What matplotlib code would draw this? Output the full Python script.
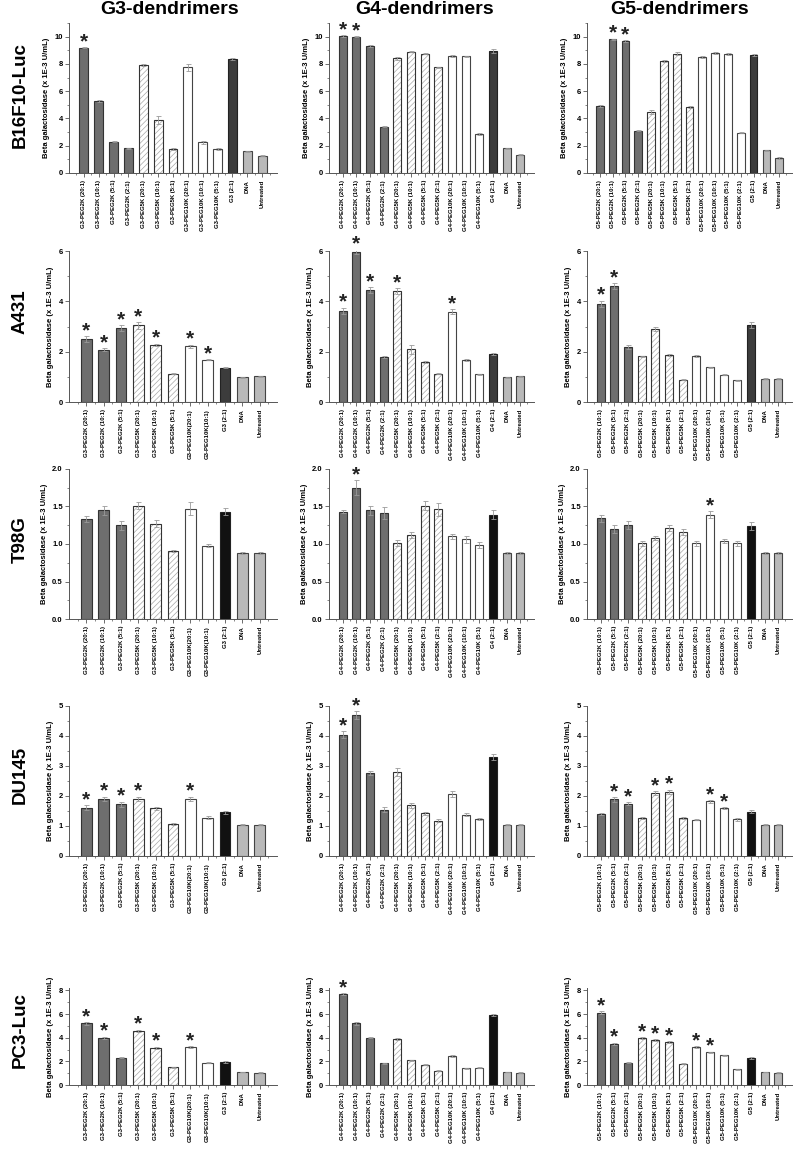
import numpy as np
import matplotlib
matplotlib.use("Agg")
import matplotlib.pyplot as plt

plt.rcParams['font.family'] = ['Liberation Sans', 'DejaVu Sans']
plt.rcParams['font.weight'] = 'bold'
plt.rcParams['hatch.linewidth'] = 0.5

#---------- column / row names ----------
col_titles = ["G3-dendrimers", "G4-dendrimers", "G5-dendrimers"]
row_names = ["B16F10-Luc", "A431", "T98G", "DU145", "PC3-Luc"]
ylims = [11, 6, 2, 5, 8.2]
ytick_steps = [2, 2, 0.5, 1, 2]
ytick_fmt = ["%d", "%d", "%.1f", "%d", "%d"]

#---------- tick labels ----------
g3_full = ["G3-PEG2K (20:1)", "G3-PEG2K (10:1)", "G3-PEG2K (5:1)", "G3-PEG2K (2:1)",
           "G3-PEG5K (20:1)", "G3-PEG5K (10:1)", "G3-PEG5K (5:1)",
           "G3-PEG10K (20:1)", "G3-PEG10K (10:1)", "G3-PEG10K (5:1)",
           "G3 (2:1)", "DNA", "Untreated"]
g3_short = ["G3-PEG2K (20:1)", "G3-PEG2K (10:1)", "G3-PEG2K (5:1)",
            "G3-PEG5K (20:1)", "G3-PEG5K (10:1)", "G3-PEG5K (5:1)",
            "G3-PEG10K(20:1)", "G3-PEG10K(10:1)",
            "G3 (2:1)", "DNA", "Untreated"]
g4_labels = ["G4-PEG2K (20:1)", "G4-PEG2K (10:1)", "G4-PEG2K (5:1)", "G4-PEG2K (2:1)",
             "G4-PEG5K (20:1)", "G4-PEG5K (10:1)", "G4-PEG5K (5:1)", "G4-PEG5K (2:1)",
             "G4-PEG10K (20:1)", "G4-PEG10K (10:1)", "G4-PEG10K (5:1)",
             "G4 (2:1)", "DNA", "Untreated"]
g5_full = ["G5-PEG2K (20:1)", "G5-PEG2K (10:1)", "G5-PEG2K (5:1)", "G5-PEG2K (2:1)",
           "G5-PEG5K (20:1)", "G5-PEG5K (10:1)", "G5-PEG5K (5:1)", "G5-PEG5K (2:1)",
           "G5-PEG10K (20:1)", "G5-PEG10K (10:1)", "G5-PEG10K (5:1)", "G5-PEG10K (2:1)",
           "G5 (2:1)", "DNA", "Untreated"]
g5_short = g5_full[1:]

#---------- B16F10-Luc ----------
b16_g3 = [9.2, 5.25, 2.3, 1.8, 7.95, 3.9, 1.75, 7.75, 2.25, 1.75, 8.35, 1.6, 1.25]
b16_g3_err = [0.05, 0.08, 0.05, 0.04, 0.07, 0.3, 0.05, 0.25, 0.1, 0.05, 0.06, 0.04, 0.04]
b16_g3_star = [0]
b16_g4 = [10.05, 10.0, 9.3, 3.4, 8.4, 8.9, 8.75, 7.75, 8.55, 8.55, 2.85, 8.95, 1.8, 1.35]
b16_g4_err = [0.05, 0.05, 0.06, 0.04, 0.08, 0.06, 0.06, 0.05, 0.07, 0.05, 0.05, 0.15, 0.05, 0.04]
b16_g4_star = [0, 1]
b16_g5 = [4.9, 9.8, 9.7, 3.1, 4.45, 8.2, 8.75, 4.85, 8.5, 8.8, 8.7, 2.95, 8.65, 1.65, 1.1]
b16_g5_err = [0.05, 0.05, 0.06, 0.05, 0.15, 0.06, 0.1, 0.05, 0.06, 0.06, 0.08, 0.04, 0.07, 0.05, 0.04]
b16_g5_star = [1, 2]

#---------- A431 ----------
a431_g3 = [2.5, 2.08, 2.95, 3.05, 2.27, 1.12, 2.22, 1.68, 1.37, 0.98, 1.02]
a431_g3_err = [0.13, 0.07, 0.12, 0.13, 0.05, 0.02, 0.06, 0.03, 0.03, 0.02, 0.02]
a431_g3_star = [0, 1, 2, 3, 4, 6, 7]
a431_g4 = [3.62, 5.97, 4.44, 1.79, 4.4, 2.1, 1.59, 1.13, 3.58, 1.66, 1.1, 1.9, 0.98, 1.02]
a431_g4_err = [0.13, 0.1, 0.12, 0.04, 0.12, 0.18, 0.04, 0.03, 0.1, 0.04, 0.03, 0.05, 0.02, 0.02]
a431_g4_star = [0, 1, 2, 4, 8]
a431_g5 = [3.9, 4.61, 2.19, 1.81, 2.92, 1.86, 0.88, 1.81, 1.39, 1.09, 0.86, 3.07, 0.93, 0.93]
a431_g5_err = [0.13, 0.12, 0.08, 0.03, 0.08, 0.04, 0.02, 0.04, 0.02, 0.02, 0.02, 0.12, 0.02, 0.02]
a431_g5_star = [0, 1]

#---------- T98G ----------
t98_g3 = [1.33, 1.45, 1.25, 1.51, 1.27, 0.91, 1.47, 0.98, 1.43, 0.88, 0.88]
t98_g3_err = [0.04, 0.06, 0.06, 0.05, 0.05, 0.01, 0.09, 0.02, 0.05, 0.01, 0.01]
t98_g3_star = []
t98_g4 = [1.43, 1.75, 1.45, 1.41, 1.01, 1.12, 1.51, 1.46, 1.1, 1.06, 0.99, 1.39, 0.88, 0.88]
t98_g4_err = [0.02, 0.1, 0.06, 0.08, 0.04, 0.04, 0.06, 0.09, 0.03, 0.04, 0.04, 0.06, 0.01, 0.01]
t98_g4_star = [1]
t98_g5 = [1.34, 1.2, 1.25, 1.01, 1.08, 1.21, 1.16, 1.01, 1.39, 1.04, 1.01, 1.24, 0.88, 0.88]
t98_g5_err = [0.05, 0.05, 0.05, 0.03, 0.03, 0.04, 0.04, 0.03, 0.05, 0.03, 0.03, 0.05, 0.01, 0.01]
t98_g5_star = [8]

#---------- DU145 ----------
du_g3 = [1.61, 1.9, 1.73, 1.9, 1.6, 1.07, 1.9, 1.28, 1.46, 1.04, 1.04]
du_g3_err = [0.08, 0.08, 0.08, 0.08, 0.05, 0.02, 0.08, 0.04, 0.05, 0.02, 0.02]
du_g3_star = [0, 1, 2, 3, 6]
du_g4 = [4.04, 4.69, 2.77, 1.54, 2.79, 1.69, 1.43, 1.18, 2.06, 1.37, 1.23, 3.29, 1.04, 1.04]
du_g4_err = [0.12, 0.13, 0.06, 0.08, 0.13, 0.08, 0.05, 0.04, 0.1, 0.05, 0.04, 0.1, 0.02, 0.02]
du_g4_star = [0, 1]
du_g5 = [1.39, 1.89, 1.75, 1.28, 2.1, 2.14, 1.27, 1.21, 1.82, 1.6, 1.22, 1.48, 1.04, 1.04]
du_g5_err = [0.03, 0.08, 0.05, 0.03, 0.07, 0.07, 0.03, 0.02, 0.05, 0.03, 0.05, 0.05, 0.02, 0.02]
du_g5_star = [1, 2, 4, 5, 8, 9]

#---------- PC3-Luc ----------
pc3_g3 = [5.2, 4.0, 2.3, 4.6, 3.15, 1.5, 3.2, 1.9, 1.95, 1.1, 1.05]
pc3_g3_err = [0.12, 0.1, 0.05, 0.08, 0.1, 0.04, 0.08, 0.05, 0.05, 0.03, 0.03]
pc3_g3_star = [0, 1, 3, 4, 6]
pc3_g4 = [7.7, 5.2, 4.0, 1.85, 3.9, 2.1, 1.7, 1.2, 2.45, 1.4, 1.45, 5.9, 1.1, 1.05]
pc3_g4_err = [0.1, 0.15, 0.06, 0.05, 0.06, 0.05, 0.05, 0.04, 0.06, 0.04, 0.04, 0.1, 0.03, 0.03]
pc3_g4_star = [0]
pc3_g5 = [6.1, 3.5, 1.9, 3.95, 3.8, 3.6, 1.8, 3.2, 2.75, 2.5, 1.35, 2.3, 1.1, 1.05]
pc3_g5_err = [0.12, 0.08, 0.05, 0.07, 0.08, 0.08, 0.05, 0.08, 0.07, 0.06, 0.04, 0.08, 0.03, 0.03]
pc3_g5_star = [0, 1, 3, 4, 5, 7, 8]

panels = [
    [(g3_full, b16_g3, b16_g3_err, b16_g3_star), (g4_labels, b16_g4, b16_g4_err, b16_g4_star), (g5_full, b16_g5, b16_g5_err, b16_g5_star)],
    [(g3_short, a431_g3, a431_g3_err, a431_g3_star), (g4_labels, a431_g4, a431_g4_err, a431_g4_star), (g5_short, a431_g5, a431_g5_err, a431_g5_star)],
    [(g3_short, t98_g3, t98_g3_err, t98_g3_star), (g4_labels, t98_g4, t98_g4_err, t98_g4_star), (g5_short, t98_g5, t98_g5_err, t98_g5_star)],
    [(g3_short, du_g3, du_g3_err, du_g3_star), (g4_labels, du_g4, du_g4_err, du_g4_star), (g5_short, du_g5, du_g5_err, du_g5_star)],
    [(g3_short, pc3_g3, pc3_g3_err, pc3_g3_star), (g4_labels, pc3_g4, pc3_g4_err, pc3_g4_star), (g5_short, pc3_g5, pc3_g5_err, pc3_g5_star)],
]

#---------- layout (pixels) ----------
W, H = 794, 1150
col_left = [69, 329, 587]
col_width = [208, 205, 205]
row_top = [23, 251, 469, 706, 988]
row_h = [150, 151, 150, 150, 97]


def bar_style(label, row):
    if "PEG2K" in label:
        return dict(color="#6e6e6e", edgecolor="#333333"), None
    if "PEG5K" in label:
        return dict(color="white", edgecolor="#333333"), "//////"
    if "PEG10K" in label:
        return dict(color="white", edgecolor="#444444"), None
    if label in ("DNA", "Untreated"):
        return dict(color="#b9b9b9", edgecolor="#444444"), None
    # dendrimer alone
    return dict(color="#3c3c3c" if row < 2 else "#111111", edgecolor="#222222"), None


fig = plt.figure(figsize=(W / 100, H / 100), dpi=100)

for r in range(5):
    for c in range(3):
        labels, vals, errs, stars = panels[r][c]
        n = len(vals)
        x = np.arange(1, n + 1)
        ax = fig.add_axes([col_left[c] / W, 1 - (row_top[r] + row_h[r]) / H,
                           col_width[c] / W, row_h[r] / H])
        for i in range(n):
            st, hatch = bar_style(labels[i], r)
            if hatch:
                ax.bar(x[i], vals[i], 0.6, color="white", edgecolor="#a8a8a8",
                       hatch=hatch, linewidth=0, zorder=2)
                ax.bar(x[i], vals[i], 0.6, fill=False, edgecolor=st["edgecolor"],
                       linewidth=0.8, zorder=3)
            else:
                ax.bar(x[i], vals[i], 0.6, color=st["color"], edgecolor=st["edgecolor"],
                       linewidth=0.8, zorder=3)
        ax.errorbar(x, vals, yerr=errs, fmt="none", ecolor="#9a9a9a",
                    elinewidth=0.6, capsize=1.8, capthick=0.6, zorder=4)
        for i in stars:
            ax.annotate("*", (x[i], vals[i] + errs[i]), xytext=(0, -3),
                        textcoords="offset points", ha="center", va="bottom",
                        fontsize=15, fontweight="bold", color="#222222",
                        annotation_clip=False)

        ax.set_xlim(0, n + 1)
        ax.set_ylim(0, ylims[r])
        yt = np.arange(0, ylims[r] + 1e-6, ytick_steps[r])
        ax.set_yticks(yt)
        ax.set_yticklabels([ytick_fmt[r] % v for v in yt])
        ax.set_yticks(np.arange(0, ylims[r] + 1e-6, ytick_steps[r] / 2), minor=True)
        ax.set_xticks(x)
        ax.set_xticklabels(labels, rotation=90, fontsize=4.3, fontweight="bold")
        ax.set_xticks(np.arange(0.5, n + 1, 1), minor=True)
        ax.tick_params(axis="both", which="major", direction="out", length=3,
                       width=0.6, color="#555555", labelsize=5.5, pad=1.5)
        ax.tick_params(axis="x", labelsize=4.3, pad=2)
        ax.tick_params(axis="both", which="minor", direction="out", length=1.5,
                       width=0.5, color="#555555")
        for s in ("top", "right"):
            ax.spines[s].set_visible(False)
        for s in ("left", "bottom"):
            ax.spines[s].set_linewidth(0.7)
            ax.spines[s].set_color("#555555")
        ax.set_ylabel("Beta galactosidase (x 1E-3 U/mL)", fontsize=5.5,
                      fontweight="bold", labelpad=3)

# column titles and row names
title_x = [170, 425, 680]
for c in range(3):
    fig.text(title_x[c] / W, 1 - 9 / H, col_titles[c], ha="center", va="center",
             fontsize=14, fontweight="bold")
row_cy = [95, 312, 540, 775, 1030]
for r in range(5):
    fig.text(20 / W, 1 - row_cy[r] / H, row_names[r], ha="center", va="center",
             rotation=90, fontsize=13.5, fontweight="bold")

fig.savefig("out.png", dpi=100)
